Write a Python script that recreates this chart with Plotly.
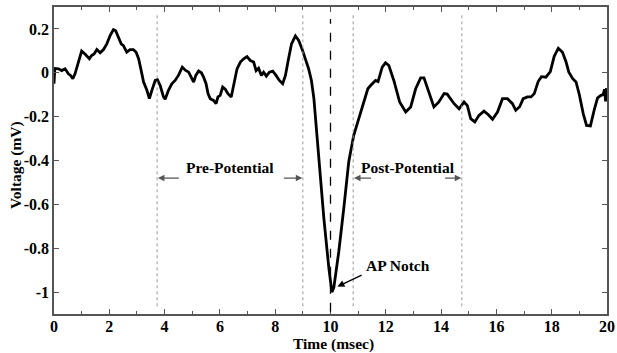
import plotly.graph_objects as go

time_ms = [0.0, 0.03, 0.16, 0.28, 0.4, 0.52, 0.6, 0.68, 0.76, 0.88, 1.0, 1.12, 1.28, 1.36, 1.45,
           1.55, 1.67, 1.79, 1.91, 2.03, 2.15, 2.23, 2.33, 2.43, 2.51, 2.63, 2.75, 2.87, 2.97,
           3.06, 3.14, 3.24, 3.36, 3.45, 3.54, 3.66, 3.74, 3.84, 3.96, 4.02, 4.14, 4.26, 4.38,
           4.5, 4.64, 4.75, 4.87, 4.96, 5.05, 5.13, 5.23, 5.33, 5.41, 5.5, 5.57, 5.65, 5.77,
           5.86, 5.93, 6.01, 6.1, 6.2, 6.29, 6.41, 6.5, 6.56, 6.62, 6.74, 6.86, 6.98, 7.1,
           7.22, 7.31, 7.4, 7.5, 7.58, 7.68, 7.79, 7.91, 8.03, 8.15, 8.27, 8.37, 8.47, 8.59,
           8.73, 8.85, 8.97, 9.09, 9.21, 9.31, 9.4, 9.48, 9.61, 9.76, 9.94, 10.05, 10.12,
           10.3, 10.48, 10.66, 10.84, 11.03, 11.21, 11.35, 11.45, 11.55, 11.63, 11.72, 11.87,
           11.99, 12.11, 12.29, 12.5, 12.72, 12.9, 13.08, 13.26, 13.38, 13.56, 13.74, 13.92,
           14.11, 14.22, 14.47, 14.65, 14.83, 14.95, 15.07, 15.22, 15.37, 15.55, 15.7, 15.86,
           16.04, 16.22, 16.4, 16.58, 16.7, 16.84, 16.97, 17.12, 17.25, 17.37, 17.51, 17.63,
           17.79, 17.95, 18.09, 18.24, 18.39, 18.52, 18.62, 18.76, 18.88, 19.0, 19.14, 19.26,
           19.4, 19.54, 19.66, 19.78, 19.86, 19.91, 19.95, 19.98]
voltage_mV = [-0.05, 0.02, 0.018, 0.01, 0.018, -0.005, -0.012, -0.027, -0.005, 0.049, 0.099,
              0.086, 0.064, 0.079, 0.086, 0.106, 0.091, 0.106, 0.132, 0.17, 0.197, 0.192, 0.162,
              0.132, 0.124, 0.094, 0.106, 0.106, 0.094, 0.064, 0.018, -0.042, -0.08, -0.118,
              -0.08, -0.035, -0.032, -0.058, -0.11, -0.121, -0.08, -0.05, -0.035, -0.012, 0.026,
              0.012, 0.003, -0.02, -0.042, -0.012, 0.008, 0.0, -0.02, -0.05, -0.095, -0.118,
              -0.126, -0.141, -0.11, -0.103, -0.065, -0.076, -0.095, -0.11, -0.058, -0.027,
              0.018, 0.049, 0.064, 0.074, 0.056, 0.049, 0.01, 0.021, -0.012, 0.003, -0.015,
              0.003, 0.008, -0.012, -0.035, -0.05, -0.012, 0.056, 0.132, 0.168, 0.147, 0.109,
              0.064, 0.018, -0.035, -0.118, -0.24, -0.436, -0.664, -0.89, -1.0, -0.98, -0.815,
              -0.618, -0.406, -0.285, -0.209, -0.133, -0.073, -0.058, -0.045, -0.035, -0.04,
              0.026, 0.046, 0.033, -0.035, -0.133, -0.179, -0.156, -0.073, -0.023, -0.023,
              -0.095, -0.156, -0.133, -0.095, -0.097, -0.141, -0.164, -0.133, -0.15, -0.209,
              -0.224, -0.194, -0.175, -0.19, -0.212, -0.179, -0.118, -0.118, -0.141, -0.171,
              -0.155, -0.118, -0.11, -0.11, -0.095, -0.04, -0.018, -0.02, 0.005, 0.075, 0.112,
              0.094, 0.049, 0.003, -0.027, -0.042, -0.1, -0.186, -0.24, -0.242, -0.168, -0.114,
              -0.103, -0.1, -0.075, -0.13, -0.07]

x_ticks = [0, 2, 4, 6, 8, 10, 12, 14, 16, 18, 20]
y_ticks = [-1, -0.8, -0.6, -0.4, -0.2, 0, 0.2]
y_tick_labels = ["-1", "-0.8", "-0.6", "-0.4", "-0.2", "0", "0.2"]

dotted_lines = [3.73, 9.0, 10.82, 14.75]
notch_time = 10.0

FONT = "Liberation Serif"

fig = go.Figure()
fig.add_trace(go.Scatter(x=time_ms, y=voltage_mV, mode="lines",
                         line=dict(color="black", width=2.8), showlegend=False))

shapes = []
for xv in dotted_lines:
    shapes.append(dict(type="line", xref="x", yref="y", x0=xv, x1=xv, y0=-1.065, y1=0.265,
                       line=dict(color="#9a9a9a", width=1, dash="dot")))
shapes.append(dict(type="line", xref="x", yref="y", x0=notch_time, x1=notch_time, y0=-1.09, y1=0.245,
                   line=dict(color="black", width=1.3, dash="dash")))

annotations = []
# region arrows
for (x0, x1) in [(4.57, 3.76), (8.26, 8.98), (11.52, 10.85), (14.09, 14.73)]:
    annotations.append(dict(x=x1, y=-0.48, ax=x0, ay=-0.48, xref="x", yref="y", axref="x", ayref="y",
                            text="", showarrow=True, arrowhead=2, arrowsize=1, arrowwidth=1.3,
                            arrowcolor="#555555"))
annotations.append(dict(x=6.35, y=-0.43, xref="x", yref="y", text="<b>Pre-Potential</b>",
                        showarrow=False, font=dict(family=FONT, size=15.5, color="black")))
annotations.append(dict(x=12.8, y=-0.43, xref="x", yref="y", text="<b>Post-Potential</b>",
                        showarrow=False, font=dict(family=FONT, size=15.5, color="black")))
annotations.append(dict(x=10.25, y=-0.975, ax=11.18, ay=-0.92, xref="x", yref="y", axref="x", ayref="y",
                        text="", showarrow=True, arrowhead=2, arrowsize=1, arrowwidth=1.4,
                        arrowcolor="black"))
annotations.append(dict(x=12.45, y=-0.88, xref="x", yref="y", text="<b>AP Notch</b>",
                        showarrow=False, font=dict(family=FONT, size=15.5, color="black")))
# axis titles
annotations.append(dict(x=0.506, y=0, xref="paper", yref="paper", yanchor="middle", yshift=-30,
                        text="<b>Time (msec)</b>", showarrow=False,
                        font=dict(family=FONT, size=15.5, color="black")))
annotations.append(dict(x=-0.069, y=0.485, xref="paper", yref="paper", textangle=-90,
                        xanchor="center", yanchor="middle",
                        text="<b>Voltage (mV)</b>", showarrow=False,
                        font=dict(family=FONT, size=15.5, color="black")))

axis_common = dict(showline=True, linecolor="#555555", linewidth=1.5, mirror="ticks",
                   ticks="inside", ticklen=5, tickcolor="#555555", tickwidth=1.2,
                   showgrid=False, zeroline=False,
                   tickfont=dict(family=FONT, size=16, color="black"))

fig.update_layout(
    width=617, height=353,
    margin=dict(l=54, r=10, t=7, b=39, autoexpand=False),
    paper_bgcolor="white", plot_bgcolor="white",
    xaxis=dict(range=[0, 20], tickvals=x_ticks, ticktext=[f"<b>{v}</b>" for v in x_ticks],
               minor=dict(dtick=1, ticks="inside", ticklen=3, tickcolor="#555555"),
               ticklabelstandoff=-3,
               **axis_common),
    yaxis=dict(range=[-1.1, 0.3], tickvals=y_ticks, ticktext=[f"<b>{t}</b>" for t in y_tick_labels],
               **axis_common),
    shapes=shapes, annotations=annotations,
)

fig.write_html("out.html", config={"displayModeBar": False},
               post_script="document.body.style.margin='0';document.body.style.padding='0';")
